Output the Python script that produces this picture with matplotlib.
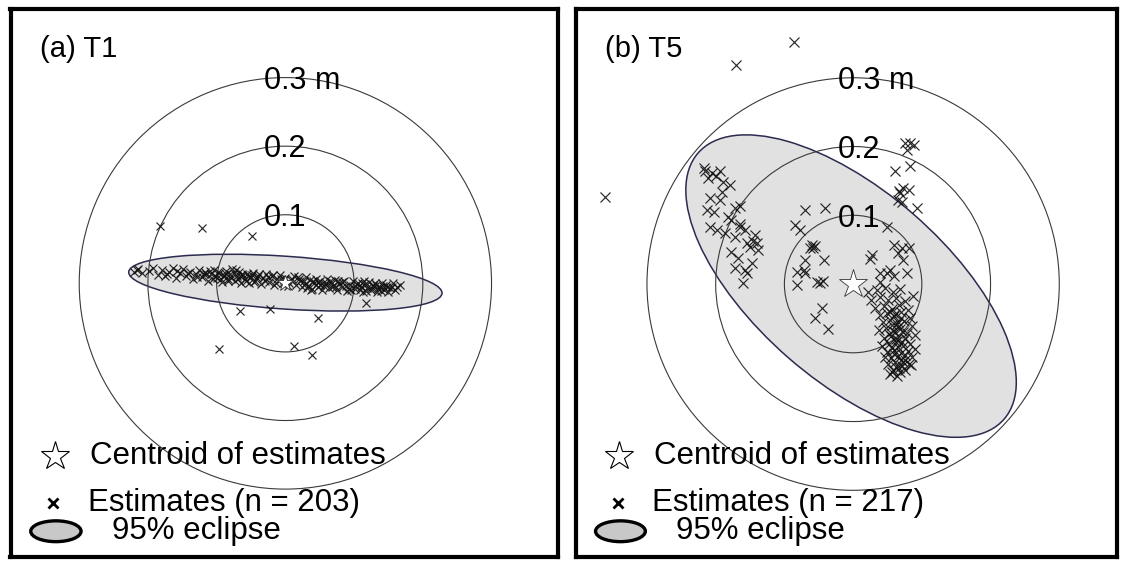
import matplotlib
matplotlib.use("Agg")
import matplotlib.pyplot as plt
from matplotlib.patches import Ellipse

plt.rcParams['font.family'] = ['Liberation Sans', 'DejaVu Sans']

# ---------------- data (metres, relative to centroid) ----------------
ring_radii = [0.1, 0.2, 0.3]
ring_labels = ["0.1", "0.2", "0.3 m"]

# Panel (a) T1
a_title = "(a) T1"
a_n = 203
a_x = [-0.221, -0.214, -0.208, -0.193, -0.186, -0.180, -0.175, -0.170, -0.164, -0.159,
       -0.153, -0.149, -0.144, -0.139, -0.135, -0.130, -0.126, -0.121, -0.117, -0.112,
       -0.108, -0.104, -0.100, -0.096, -0.092, -0.089, -0.086, -0.083, -0.080, -0.077,
       -0.074, -0.071, -0.068, -0.065, -0.062, -0.059, -0.056, -0.053, -0.050, -0.047,
       -0.044, -0.040, -0.036, -0.032, -0.028, -0.024, -0.020, -0.016, -0.012, -0.008,
       -0.004, 0.000, 0.004, 0.008, 0.012, 0.016, 0.020, 0.024, 0.027, 0.030,
       0.033, 0.036, 0.039, 0.042, 0.045, 0.048, 0.051, 0.054, 0.057, 0.060,
       0.063, 0.066, 0.069, 0.072, 0.075, 0.078, 0.082, 0.086, 0.090, 0.094,
       0.098, 0.102, 0.106, 0.110, 0.113, 0.116, 0.119, 0.122, 0.125, 0.128,
       0.131, 0.134, 0.137, 0.140, 0.143, 0.146, 0.150, 0.155, 0.160, 0.167,
       -0.118, -0.110, -0.102, -0.094, -0.087, -0.079, -0.072, -0.066, -0.058, -0.049,
       -0.041, -0.030, -0.018, -0.006, 0.006, 0.018, 0.029, 0.038, 0.047, 0.056,
       0.065, 0.074, 0.083, 0.092, 0.101, 0.108, 0.115, 0.124, 0.132, 0.139,
       0.148, 0.157,
       -0.216, -0.199, -0.172, -0.157, -0.141, -0.128, -0.115, -0.106, -0.098, -0.090,
       -0.084, -0.075, -0.069, -0.063, -0.054, -0.045, -0.038, -0.026, -0.014, -0.002,
       0.010, 0.022, 0.031, 0.040, 0.050, 0.059, 0.068, 0.077, 0.088, 0.096,
       0.104, 0.111, 0.118, 0.127, 0.135, 0.142, 0.152, 0.163,
       -0.182, -0.121, -0.048, -0.066, -0.022, 0.047, 0.117, -0.096, 0.012, 0.039]
a_y = [0.016, 0.021, 0.015, 0.022, 0.012, 0.019, 0.010, 0.017, 0.023, 0.008,
       0.015, 0.021, 0.011, 0.017, 0.006, 0.014, 0.020, 0.009, 0.016, 0.004,
       0.013, 0.019, 0.008, 0.015, 0.002, 0.011, 0.018, 0.006, 0.013, 0.021,
       0.003, 0.010, 0.016, 0.000, 0.012, 0.006, 0.014, 0.001, 0.009, 0.015,
       0.004, 0.011, -0.001, 0.008, 0.014, 0.002, 0.010, -0.003, 0.007, 0.012,
       0.000, 0.008, -0.004, 0.005, 0.011, -0.002, 0.006, -0.006, 0.003, 0.009,
       -0.004, 0.005, -0.008, 0.001, 0.007, -0.005, 0.003, -0.010, -0.001, 0.006,
       -0.007, 0.002, -0.004, 0.005, -0.009, 0.000, -0.006, 0.004, -0.011, -0.002,
       0.003, -0.008, 0.001, -0.005, -0.012, -0.001, -0.007, 0.002, -0.010, -0.004,
       0.001, -0.013, -0.006, 0.000, -0.009, -0.003, -0.012, -0.005, -0.010, -0.002,
       0.013, 0.018, 0.011, 0.006, 0.014, 0.008, 0.019, 0.011, 0.003, 0.012,
       0.008, 0.004, 0.012, 0.006, 0.001, 0.009, -0.001, -0.010, 0.002, -0.004,
       0.003, -0.006, 0.002, -0.008, -0.004, -0.010, 0.003, -0.007, -0.002, -0.011,
       -0.006, 0.001,
       0.019, 0.018, 0.013, 0.018, 0.015, 0.009, 0.014, 0.007, 0.017, 0.012,
       0.004, 0.015, 0.006, 0.014, 0.010, 0.002, 0.013, 0.009, 0.001, 0.005,
       0.007, 0.003, -0.007, 0.004, -0.002, 0.001, -0.005, 0.003, -0.004, -0.009,
       -0.001, 0.001, -0.011, -0.002, -0.008, -0.004, -0.007, -0.006,
       0.083, 0.080, 0.069, -0.041, -0.038, -0.050, -0.029, -0.096, -0.092, -0.105]
a_ellipse_center = (0.0, 0.001)
a_ellipse_width = 0.457
a_ellipse_height = 0.077
a_ellipse_angle = -3.9
a_label_dx = -0.031

# Panel (b) T5
b_title = "(b) T5"
b_n = 217
b_x = [-0.086, -0.171, -0.361,
       -0.215, -0.211, -0.206, -0.194, -0.189, -0.179, -0.191, -0.208, -0.194, -0.213,
       -0.203, -0.182, -0.172, -0.165, -0.177, -0.208, -0.198, -0.186, -0.165, -0.157,
       -0.143, -0.145, -0.155, -0.172, -0.172, -0.157, -0.155, -0.160, -0.147, -0.140,
       -0.150, -0.165, -0.177, -0.217, -0.199, -0.138, -0.167,
       -0.070, -0.041, -0.084, -0.077, -0.060, -0.058, -0.055, -0.063, -0.070, -0.043,
       -0.082, -0.072, -0.070, -0.082, -0.053, -0.048, -0.044, -0.046, -0.055, -0.036,
       0.022, 0.027, 0.025,
       0.083, 0.088, 0.078, 0.083, 0.061, 0.073, 0.068, 0.066, 0.081, 0.071,
       0.093, 0.049, 0.075, 0.067,
       0.059, 0.071, 0.081, 0.066, 0.073, 0.039, 0.049, 0.054, 0.078, 0.039, 0.059,
       0.035, 0.047, 0.058, 0.068, 0.026, 0.039, 0.051, 0.063, 0.076, 0.087,
       0.032, 0.045, 0.057, 0.067, 0.080, 0.039, 0.050, 0.060, 0.070, 0.083,
       0.044, 0.054, 0.064, 0.074, 0.086, 0.038, 0.048, 0.058, 0.068, 0.079,
       0.090, 0.045, 0.055, 0.066, 0.076, 0.052, 0.063, 0.073, 0.083, 0.042,
       0.050, 0.060, 0.070, 0.080, 0.055, 0.066, 0.076, 0.086, 0.051, 0.061,
       0.071, 0.082, 0.058, 0.068, 0.064, 0.076, 0.054, 0.090, 0.047, 0.084,
       0.053, 0.061, 0.069, 0.057, 0.065, 0.073, 0.052, 0.062, 0.071, 0.056,
       0.066, 0.075, 0.060, 0.069, 0.063, 0.057, 0.067, 0.072, 0.061, 0.065]
b_y = [0.352, 0.319, 0.127,
       0.164, 0.154, 0.161, 0.164, 0.149, 0.144, 0.134, 0.125, 0.122, 0.108,
       0.105, 0.098, 0.110, 0.113, 0.093, 0.083, 0.079, 0.074, 0.088, 0.079,
       0.071, 0.062, 0.059, 0.069, 0.023, 0.020, 0.016, 0.001, 0.030, 0.059,
       0.054, 0.083, 0.047, 0.169, 0.157, 0.049, 0.038,
       0.108, 0.110, 0.086, 0.079, 0.057, 0.053, 0.055, 0.052, 0.035, 0.035,
       0.018, 0.020, 0.016, -0.001, 0.003, 0.002, 0.004, -0.035, -0.050, -0.065,
       -0.011, 0.042, 0.037,
       0.205, 0.202, 0.195, 0.171, 0.164, 0.139, 0.132, 0.122, 0.137, 0.120,
       0.110, 0.083, 0.205, 0.135,
       0.057, 0.052, 0.052, 0.045, 0.035, 0.016, 0.016, 0.020, 0.016, 0.003, 0.011,
       -0.009, -0.006, -0.012, -0.007, -0.023, -0.019, -0.023, -0.020, -0.025, -0.017,
       -0.035, -0.032, -0.036, -0.031, -0.038, -0.045, -0.042, -0.047, -0.041, -0.050,
       -0.055, -0.052, -0.058, -0.054, -0.061, -0.067, -0.064, -0.068, -0.066, -0.071,
       -0.074, -0.079, -0.076, -0.082, -0.079, -0.087, -0.084, -0.090, -0.087, -0.090,
       -0.099, -0.096, -0.100, -0.098, -0.108, -0.105, -0.111, -0.106, -0.116, -0.114,
       -0.119, -0.116, -0.125, -0.128, -0.134, -0.125, -0.131, -0.095, -0.106, -0.118,
       -0.040, -0.044, -0.049, -0.060, -0.063, -0.070, -0.073, -0.080, -0.085, -0.093,
       -0.092, -0.103, -0.102, -0.110, -0.120, -0.128, -0.122, -0.113, -0.070, -0.055]
b_ellipse_center = (-0.003, -0.003)
b_ellipse_width = 0.590
b_ellipse_height = 0.277
b_ellipse_angle = -41.0
b_label_dx = -0.022

# ---------------- figure ----------------
W, H = 1122, 561
fig = plt.figure(figsize=(W / 100, H / 100), dpi=100)

ax_a = fig.add_axes([10.5 / W, 4 / H, 547 / W, 548 / H])
ax_b = fig.add_axes([575.5 / W, 4 / H, 541.5 / W, 548 / H])

panels = [
    (ax_a, a_title, a_n, a_x, a_y, a_ellipse_center, a_ellipse_width, a_ellipse_height,
     a_ellipse_angle, a_label_dx, (-0.400, 0.396), (-0.399, 0.400), 5.8, 12),
    (ax_b, b_title, b_n, b_x, b_y, b_ellipse_center, b_ellipse_width, b_ellipse_height,
     b_ellipse_angle, b_label_dx, (-0.404, 0.384), (-0.397, 0.400), 7.5, 21),
]

FS_TITLE = 21
FS_RING = 22
FS_LEG = 22.5
for (ax, title, n, xs, ys, ec, ew, eh, ea, ldx, xlim, ylim, msize, starsize) in panels:
    ax.set_xlim(*xlim)
    ax.set_ylim(*ylim)
    ax.set_aspect('auto')
    ax.set_xticks([])
    ax.set_yticks([])
    for sp in ax.spines.values():
        sp.set_linewidth(3.0)
        sp.set_color('black')

    # 95% ellipse
    ax.add_patch(Ellipse(ec, ew, eh, angle=ea, facecolor='#e1e1e1',
                         edgecolor='#2b2b4f', linewidth=1.1, zorder=1))
    # distance rings
    for r in ring_radii:
        ax.add_patch(plt.Circle((0, 0), r, fill=False, edgecolor='#3a3a3a',
                                linewidth=0.8, zorder=2))
    for r, lab in zip(ring_radii, ring_labels):
        ax.text(ldx, r - 0.0165, lab, fontsize=FS_RING, ha='left', va='baseline',
                color='black', zorder=5)

    # estimates
    ax.plot(xs, ys, linestyle='none', marker='x', markersize=msize,
            markeredgewidth=0.85, color='#111111', alpha=0.9, zorder=3)
    # centroid
    ax.plot([0], [0], linestyle='none', marker='*', markersize=starsize,
            markerfacecolor='white', markeredgecolor='#333333',
            markeredgewidth=0.6, zorder=6)

    # title
    ax.text(0.054, 0.927, title, transform=ax.transAxes, fontsize=FS_TITLE,
            ha='left', va='center')

    # legend (manual)
    ax.plot([0.081], [0.184], transform=ax.transAxes, marker='*', markersize=21,
            markerfacecolor='white', markeredgecolor='black', markeredgewidth=0.8,
            linestyle='none', clip_on=False, zorder=7)
    ax.text(0.145, 0.184, "Centroid of estimates", transform=ax.transAxes,
            fontsize=FS_LEG, ha='left', va='center', zorder=7)
    ax.plot([0.078], [0.099], transform=ax.transAxes, marker='x', markersize=7,
            markeredgewidth=2.0, color='black', linestyle='none', zorder=7)
    ax.text(0.142, 0.099, f"Estimates (n = {n})", transform=ax.transAxes,
            fontsize=FS_LEG, ha='left', va='center', zorder=7)
    ax.add_patch(Ellipse((0.083, 0.047), 0.092, 0.038, transform=ax.transAxes,
                         facecolor='#c8c8c8', edgecolor='black', linewidth=2.4,
                         zorder=7))
    ax.text(0.186, 0.047, "95% eclipse", transform=ax.transAxes, fontsize=FS_LEG,
            ha='left', va='center', zorder=7)

fig.savefig("out.png", dpi=100)
